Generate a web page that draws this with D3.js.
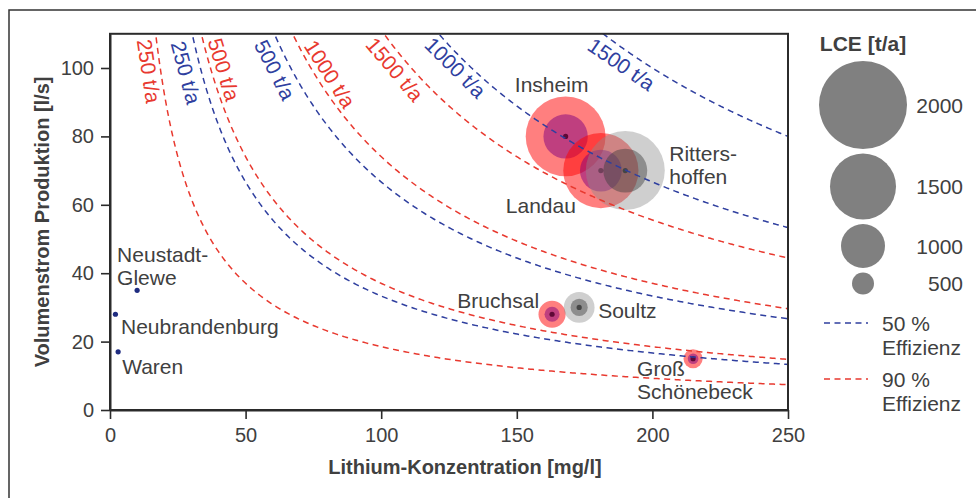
<!DOCTYPE html>
<html><head><meta charset="utf-8">
<script src="https://cdn.jsdelivr.net/npm/d3@7"></script>
<style>
body{margin:0;background:#fff}
svg{display:block}
text{font-family:"Liberation Sans",Arial,Helvetica,sans-serif}
</style>
</head><body>
<svg id="c" width="976" height="498"></svg>
<script>
// ---------------- data ----------------
const sites   = ["Insheim","Landau","Rittershoffen","Bruchsal","Soultz","Groß Schönebeck","Neustadt-Glewe","Neubrandenburg","Waren"];
const lithium = [168, 181, 190, 163, 173, 215, 10, 2, 3];      // mg/l
const flow    = [80, 70, 70, 28, 30, 15, 35, 28, 17];           // l/s
const lce50   = [1008, 950, 998, 342, 389, 242, 26, 4, 4];      // t/a at 50 %
const lce90   = [1814, 1710, 1796, 616, 700, 435, 47, 8, 7];    // t/a at 90 %
const country = ["DE","DE","FR","DE","FR","DE","DE-N","DE-N","DE-N"];
const isoLevels    = [250, 500, 1000, 1500];   // t/a
const efficiencies = [0.5, 0.9];
const lcePerFlowConc = 0.15;                   // t/a LCE per (l/s · mg/l) at 100 %
const xTicks = [0, 50, 100, 150, 200, 250];
const yTicks = [0, 20, 40, 60, 80, 100];
const legendSizes = [2000, 1500, 1000, 500];

// ---------------- layout ----------------
const svg = d3.select("#c");
const x = d3.scaleLinear().domain([0, 250]).range([110, 788]);
const y = d3.scaleLinear().domain([0, 110]).range([410, 33.8]);
const r = d3.scaleLinear().domain([0, 2000]).range([0, 44]);
const effColor = d3.scaleOrdinal().domain(efficiencies).range(["#2f3f9f", "#e8392f"]);
const outerFill = {"DE":"rgba(255,0,0,0.5)","FR":"rgba(140,140,140,0.42)","DE-N":"none"};
const innerFill = {"DE":"rgba(128,0,128,0.5)","FR":"rgba(60,60,60,0.45)","DE-N":"none"};
const dotFill   = {"DE":"#5e0836","FR":"#454545","DE-N":"#1f2c80"};
const textCol = "#404040";
const FS = 20, LFS = 21;

// outer frame
svg.append("rect").attr("x", 9).attr("y", 10).attr("width", 1000).attr("height", 520)
  .attr("fill", "none").attr("stroke", "#333").attr("stroke-width", 1.5);

// clip for plot
svg.append("defs").append("clipPath").attr("id", "plotclip").append("rect")
  .attr("x", x(0)).attr("y", y(110)).attr("width", x(250) - x(0)).attr("height", y(0) - y(110));

// bubbles
const bub = svg.append("g").attr("clip-path", "url(#plotclip)");
sites.forEach((s, i) => {
  const g = bub.append("g");
  const cx = x(lithium[i]), cy = y(flow[i]);
  g.append("circle").attr("cx", cx).attr("cy", cy).attr("r", r(lce90[i])).attr("fill", outerFill[country[i]]);
  g.append("circle").attr("cx", cx).attr("cy", cy).attr("r", r(lce50[i])).attr("fill", innerFill[country[i]]);
  g.append("circle").attr("cx", cx).attr("cy", cy).attr("r", 2.6).attr("fill", dotFill[country[i]]);
});

// iso-LCE curves: LCE = factor * eff * Q * c  ->  Q = LCE / (factor*eff*c)
const curves = [];
efficiencies.forEach(eff => isoLevels.forEach(lvl => curves.push({eff, lvl, P: lvl / (lcePerFlowConc * eff)})));
const line = d3.line().x(d => x(d[0])).y(d => y(d[1]));
const cg = svg.append("g").attr("clip-path", "url(#plotclip)");
curves.forEach(cv => {
  const c0 = cv.P / 112, pts = [];
  const n = 300;
  for (let k = 0; k <= n; k++) {
    const c = c0 + (250 - c0) * k / n;
    pts.push([c, cv.P / c]);
  }
  cg.append("path").attr("d", line(pts)).attr("fill", "none")
    .attr("stroke", effColor(cv.eff)).attr("stroke-width", 1.5).attr("stroke-dasharray", "6,4.5");
});

// curve labels (anchor concentration on the curve + perpendicular offset in px)
const curveLabelPos = [
  {eff:0.9, lvl:250,  c:18.6,  n:11.6},
  {eff:0.5, lvl:250,  c:33.4,  n:15},
  {eff:0.9, lvl:500,  c:37.6,  n:-12.5},
  {eff:0.5, lvl:500,  c:65.7,  n:14.9},
  {eff:0.9, lvl:1000, c:77.0,  n:-13.2},
  {eff:0.9, lvl:1500, c:108.8, n:13.4},
  {eff:0.5, lvl:1000, c:130.2, n:11},
  {eff:0.5, lvl:1500, c:191.5, n:13.9}
];
curveLabelPos.forEach(lp => {
  const P = lp.lvl / (lcePerFlowConc * lp.eff);
  const px = x(lp.c), py = y(P / lp.c);
  const dx = x(lp.c + 0.01) - px, dy = y(P / (lp.c + 0.01)) - py;
  const a = Math.atan2(dy, dx);
  const tx = px - lp.n * Math.sin(a), ty = py + lp.n * Math.cos(a);
  svg.append("text").attr("transform", `translate(${tx},${ty}) rotate(${a * 180 / Math.PI})`)
    .attr("text-anchor", "middle").attr("dominant-baseline", "central")
    .attr("font-size", LFS).attr("fill", effColor(lp.eff)).text(lp.lvl + " t/a");
});

// site labels (offsets in px from the point)
const siteLabelPos = {
  "Insheim":        {lines:["Insheim"], dx:-14, dy:-44, anchor:"middle"},
  "Landau":         {lines:["Landau"], dx:-25, dy:42.5, anchor:"end"},
  "Rittershoffen":  {lines:["Ritters-","hoffen"], dx:44, dy:-9.5, anchor:"start"},
  "Bruchsal":       {lines:["Bruchsal"], dx:-13, dy:-6.5, anchor:"end"},
  "Soultz":         {lines:["Soultz"], dx:19, dy:10.6, anchor:"start"},
  "Groß Schönebeck":{lines:["Groß","Schönebeck"], dx:-56, dy:17.3, anchor:"start"},
  "Neustadt-Glewe": {lines:["Neustadt-","Glewe"], dx:-20, dy:-28, anchor:"start"},
  "Neubrandenburg": {lines:["Neubrandenburg"], dx:5.6, dy:20, anchor:"start"},
  "Waren":          {lines:["Waren"], dx:4, dy:22, anchor:"start"}
};
sites.forEach((s, i) => {
  const lp = siteLabelPos[s];
  const t = svg.append("text").attr("x", x(lithium[i]) + lp.dx).attr("y", y(flow[i]) + lp.dy)
    .attr("text-anchor", lp.anchor).attr("font-size", LFS).attr("fill", textCol);
  lp.lines.forEach((l, j) => t.append("tspan").attr("x", x(lithium[i]) + lp.dx).attr("dy", j ? 23 : 0).text(l));
});

// plot box
svg.append("rect").attr("x", x(0)).attr("y", y(110)).attr("width", x(250) - x(0)).attr("height", y(0) - y(110))
  .attr("fill", "none").attr("stroke", "#2b2b2b").attr("stroke-width", 2);

// axes
const xa = svg.append("g").attr("transform", `translate(0,${y(0)})`)
  .call(d3.axisBottom(x).tickValues(xTicks).tickSize(9).tickSizeOuter(0).tickPadding(9));
const ya = svg.append("g").attr("transform", `translate(${x(0)},0)`)
  .call(d3.axisLeft(y).tickValues(yTicks).tickSize(9).tickSizeOuter(0).tickPadding(7));
[xa, ya].forEach(a => {
  a.select(".domain").attr("stroke", "#2b2b2b").attr("stroke-width", 2);
  a.selectAll(".tick line").attr("stroke", "#2b2b2b").attr("stroke-width", 1.6);
  a.selectAll(".tick text").attr("font-size", FS).attr("fill", textCol).attr("font-family", '"Liberation Sans",Arial,sans-serif');
});

// axis titles
svg.append("text").attr("x", (x(0) + x(250)) / 2 + 16).attr("y", 474).attr("text-anchor", "middle")
  .attr("font-size", FS).attr("font-weight", "bold").attr("fill", textCol).text("Lithium-Konzentration [mg/l]");
svg.append("text").attr("transform", `translate(49,${(y(0) + y(110)) / 2}) rotate(-90)`).attr("text-anchor", "middle")
  .attr("font-size", FS).attr("font-weight", "bold").attr("fill", textCol).text("Volumenstrom Produktion [l/s]");

// legend
const lx = 863;
svg.append("text").attr("x", lx).attr("y", 51).attr("text-anchor", "middle")
  .attr("font-size", LFS).attr("font-weight", "bold").attr("fill", textCol).text("LCE [t/a]");
let stackY = 61;
legendSizes.forEach(v => {
  const rr = r(v), cy = stackY + rr;
  svg.append("circle").attr("cx", lx).attr("cy", cy).attr("r", rr).attr("fill", "#808080");
  svg.append("text").attr("x", 963).attr("y", cy).attr("dominant-baseline", "central").attr("text-anchor", "end")
    .attr("font-size", LFS).attr("fill", textCol).text(v);
  stackY = cy + rr + 4.5;
});
efficiencies.forEach((e, i) => {
  const ly = 323 + i * 56;
  svg.append("line").attr("x1", 824).attr("x2", 868).attr("y1", ly).attr("y2", ly)
    .attr("stroke", effColor(e)).attr("stroke-width", 1.5).attr("stroke-dasharray", "6,4.5");
  svg.append("text").attr("x", 882).attr("y", ly).attr("dominant-baseline", "central")
    .attr("font-size", LFS).attr("fill", textCol).text(Math.round(e * 100) + " %");
  svg.append("text").attr("x", 882).attr("y", ly + 24).attr("dominant-baseline", "central")
    .attr("font-size", LFS).attr("fill", textCol).text("Effizienz");
});
</script>
</body></html>
